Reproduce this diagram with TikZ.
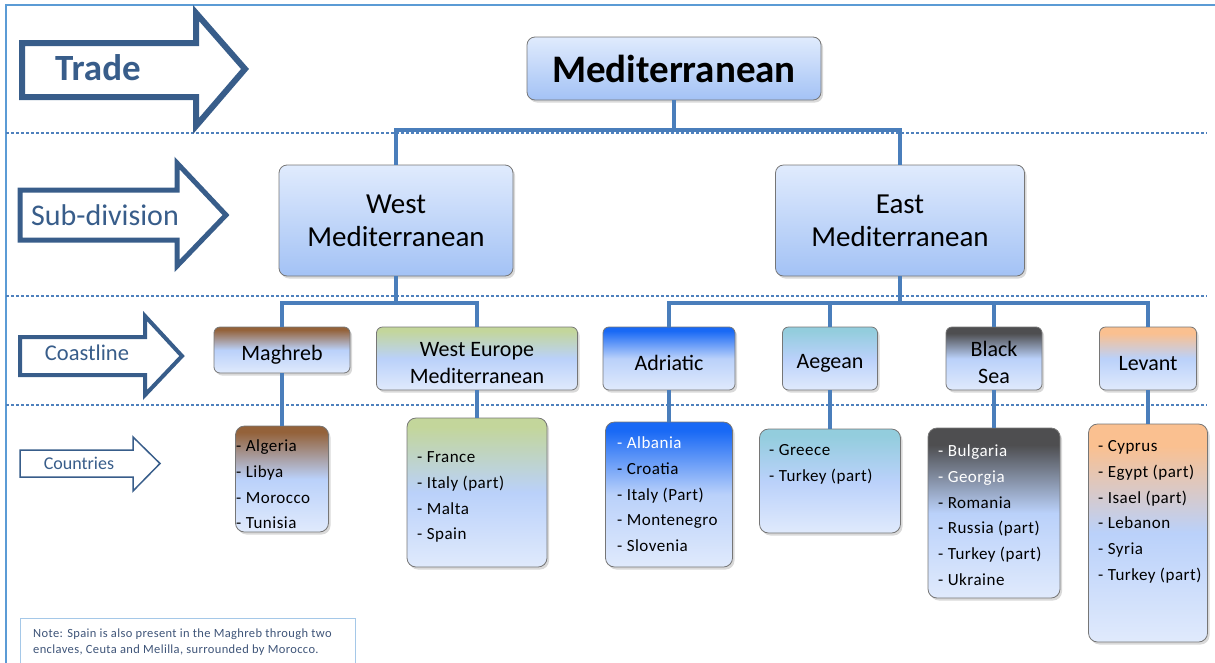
\documentclass[tikz,border=0pt]{standalone}
\usepackage{fontspec}
\setmainfont{Carlito}
\newfontfamily\listfont{Carlito}[LetterSpace=3]
\newfontfamily\notefont{Carlito}[LetterSpace=3]
\usetikzlibrary{shadows}

\definecolor{frameblue}{RGB}{91,155,213}
\definecolor{dotblue}{RGB}{79,129,189}
\definecolor{arrowblue}{RGB}{56,93,138}
\definecolor{linkblue}{RGB}{74,126,187}
\definecolor{boxtop}{RGB}{224,235,253}
\definecolor{boxbot}{RGB}{163,194,245}
\definecolor{midblue}{RGB}{186,209,250}
\definecolor{lightblue}{RGB}{224,234,252}
\definecolor{cbrown}{RGB}{148,98,58}
\definecolor{cgreen}{RGB}{195,214,155}
\definecolor{cblue}{RGB}{25,105,245}
\definecolor{cteal}{RGB}{147,205,221}
\definecolor{cgray}{RGB}{78,78,80}
\definecolor{cpeach}{RGB}{250,192,144}
\definecolor{boxedge}{RGB}{118,118,118}
\definecolor{notetext}{RGB}{62,84,120}
\definecolor{noteedge}{RGB}{165,200,232}

\pgfdeclareverticalshading{shbrown}{100bp}{color(0bp)=(lightblue); color(25bp)=(lightblue); color(50bp)=(midblue); color(72bp)=(cbrown); color(100bp)=(cbrown)}
\pgfdeclareverticalshading{shgreen}{100bp}{color(0bp)=(lightblue); color(25bp)=(lightblue); color(50bp)=(midblue); color(72bp)=(cgreen); color(100bp)=(cgreen)}
\pgfdeclareverticalshading{shblue}{100bp}{color(0bp)=(lightblue); color(25bp)=(lightblue); color(50bp)=(midblue); color(72bp)=(cblue); color(100bp)=(cblue)}
\pgfdeclareverticalshading{shteal}{100bp}{color(0bp)=(lightblue); color(25bp)=(lightblue); color(50bp)=(midblue); color(72bp)=(cteal); color(100bp)=(cteal)}
\pgfdeclareverticalshading{shgray}{100bp}{color(0bp)=(lightblue); color(25bp)=(lightblue); color(50bp)=(midblue); color(70bp)=(cgray); color(100bp)=(cgray)}
\pgfdeclareverticalshading{shpeach}{100bp}{color(0bp)=(lightblue); color(25bp)=(lightblue); color(50bp)=(midblue); color(70bp)=(cpeach); color(100bp)=(cpeach)}

\newcommand\cstrut{\rule{0pt}{24pt}}

\tikzset{
  softshadow/.style={drop shadow={opacity=0.3, shadow xshift=2pt, shadow yshift=-2.5pt}},
  mainbox/.style={draw=boxedge, line width=0.8pt, rounded corners=8pt, top color=boxtop, bottom color=boxbot, softshadow, align=center, inner sep=0pt},
  coastbox/.style={draw=boxedge, line width=0.8pt, rounded corners=6pt, shade, softshadow, align=center, inner sep=0pt, font=\fontsize{22}{27}\selectfont},
  listbox/.style={draw=boxedge, line width=0.8pt, rounded corners=9pt, shade, softshadow, inner sep=0pt},
  listtext/.style={anchor=north west, align=left, inner sep=0pt, font=\listfont\fontsize{17}{25.9}\selectfont},
  link/.style={draw=linkblue, line width=4pt},
  sepline/.style={draw=dotblue, line width=2.5pt, dash pattern=on 2.5pt off 2.5pt},
  bigarrow/.style={draw=arrowblue, line join=miter, fill=white},
  arrowlabel/.style={text=arrowblue, inner sep=0pt}
}

\begin{document}
\begin{tikzpicture}[x=1pt,y=-1pt]
\useasboundingbox (0,0) rectangle (1215,662);
% frame
\draw[frameblue, line width=2pt] (6,670) -- (6,5) -- (1220,5);
% separators
\draw[sepline] (6,133) -- (1207,133);
\draw[sepline] (6,296) -- (1207,296);
\draw[sepline] (6,405) -- (1207,405);

% level arrows
\draw[bigarrow, line width=6pt] (22,43) -- (196,43) -- (196,13) -- (245,69) -- (196,126) -- (196,97) -- (22,97) -- cycle;
\node[arrowlabel, font=\bfseries\fontsize{37}{40}\selectfont] (ltrade) at (98,68) {Trade};
\draw[bigarrow, line width=5pt] (20,190) -- (177,190) -- (177,163) -- (226,215) -- (177,266) -- (177,240) -- (20,240) -- cycle;
\node[arrowlabel, font=\fontsize{30}{33}\selectfont] (lsub) at (105,215) {Sub-division};
\draw[bigarrow, line width=4pt] (20,337) -- (145,337) -- (145,316) -- (182,356) -- (145,395) -- (145,375) -- (20,375) -- cycle;
\node[arrowlabel, font=\fontsize{22.5}{26}\selectfont] (lcoast) at (87,353) {Coastline};
\draw[bigarrow, line width=1.5pt] (20,450) -- (133,450) -- (133,437) -- (160,463.5) -- (133,491) -- (133,477) -- (20,477) -- cycle;
\node[arrowlabel, font=\fontsize{18}{22}\selectfont] (lcountries) at (79,463) {Countries};

% main boxes
\node[mainbox, minimum width=294pt, minimum height=63pt, font=\bfseries\fontsize{39}{42}\selectfont] (med) at (674,68.5) {Mediterranean};
\node[mainbox, minimum width=234pt, minimum height=111pt, font=\fontsize{29}{33}\selectfont] (west) at (396,220.5) {West\\Mediterranean};
\node[mainbox, minimum width=249pt, minimum height=111pt, font=\fontsize{29}{33}\selectfont] (east) at (900,220.5) {East\\Mediterranean};

% coastline boxes
\node[coastbox, shading=shbrown, minimum width=136pt, minimum height=46pt] (mag) at (282,350) {\cstrut Maghreb};
\node[coastbox, shading=shgreen, minimum width=201pt, minimum height=63pt] (weu) at (477,358.5) {\cstrut West Europe\\Mediterranean};
\node[coastbox, shading=shblue, minimum width=132pt, minimum height=63pt] (adr) at (669,358.5) {\cstrut Adriatic};
\node[coastbox, shading=shteal, minimum width=95pt, minimum height=63pt] (aeg) at (830,358.5) {\cstrut Aegean};
\node[coastbox, shading=shgray, minimum width=96pt, minimum height=63pt] (blk) at (994,358.5) {\cstrut Black\\Sea};
\node[coastbox, shading=shpeach, minimum width=97pt, minimum height=63pt] (lev) at (1148,358.5) {\cstrut Levant};

% country boxes
\node[listbox, shading=shbrown, minimum width=93pt, minimum height=106pt] (lmag) at (282,479) {};
\node[listbox, shading=shgreen, minimum width=140pt, minimum height=149pt] (lweu) at (477,492.5) {};
\node[listbox, shading=shblue, minimum width=127pt, minimum height=145pt] (ladr) at (669,494.5) {};
\node[listbox, shading=shteal, minimum width=141pt, minimum height=104pt] (laeg) at (830,481) {};
\node[listbox, shading=shgray, minimum width=132pt, minimum height=170pt] (lblk) at (994,513) {};
\node[listbox, shading=shpeach, minimum width=119pt, minimum height=218pt] (llev) at (1148,533) {};

\node[listtext] (tmag) at (236,437) {\rule{0pt}{14pt}- Algeria\\- Libya\\- Morocco\\- Tunisia};
\node[listtext] (tweu) at (417,448) {\rule{0pt}{14pt}- France\\- Italy (part)\\- Malta\\- Spain};
\node[listtext] (tadr) at (617,434) {\rule{0pt}{14pt}\textcolor{white}{- Albania}\\- Croatia\\- Italy (Part)\\- Montenegro\\- Slovenia};
\node[listtext] (taeg) at (769,441) {\rule{0pt}{14pt}- Greece\\- Turkey (part)};
\node[listtext] (tblk) at (938,442) {\rule{0pt}{14pt}\textcolor{white}{- Bulgaria}\\\textcolor{white}{- Georgia}\\- Romania\\- Russia (part)\\- Turkey (part)\\- Ukraine};
\node[listtext] (tlev) at (1098,437) {\rule{0pt}{14pt}- Cyprus\\- Egypt (part)\\- Isael (part)\\- Lebanon\\- Syria\\- Turkey (part)};

% connectors
\draw[link] (med.south) -- ++(0,30) coordinate (j0);
\draw[link] (j0) -| (west.north);
\draw[link] (j0) -| (east.north);
\draw[link] (west.south) -- ++(0,27) coordinate (j1);
\draw[link] (j1) -| (mag.north);
\draw[link] (j1) -| (weu.north);
\draw[link] (east.south) -- ++(0,27) coordinate (j2);
\draw[link] (j2) -| (adr.north);
\draw[link] (j2) -| (aeg.north);
\draw[link] (j2) -| (blk.north);
\draw[link] (j2) -| (lev.north);
\draw[link] (mag.south) -- (lmag.north);
\draw[link] (weu.south) -- (lweu.north);
\draw[link] (adr.south) -- (ladr.north);
\draw[link] (aeg.south) -- (laeg.north);
\draw[link] (blk.south) -- (lblk.north);
\draw[link] (lev.south) -- (llev.north);

% note
\node[draw=noteedge, line width=1pt, anchor=north west, minimum width=335pt, minimum height=60pt] (notebox) at (20,618) {};
\node[anchor=north west, align=left, inner sep=0pt, text=notetext, font=\notefont\fontsize{12.5}{16}\selectfont] (notetxt) at (33,629) {Note: Spain is also present in the Maghreb\ through two\\enclaves,\ Ceuta and\ Melilla,\ surrounded by Morocco.};
\end{tikzpicture}
\end{document}
